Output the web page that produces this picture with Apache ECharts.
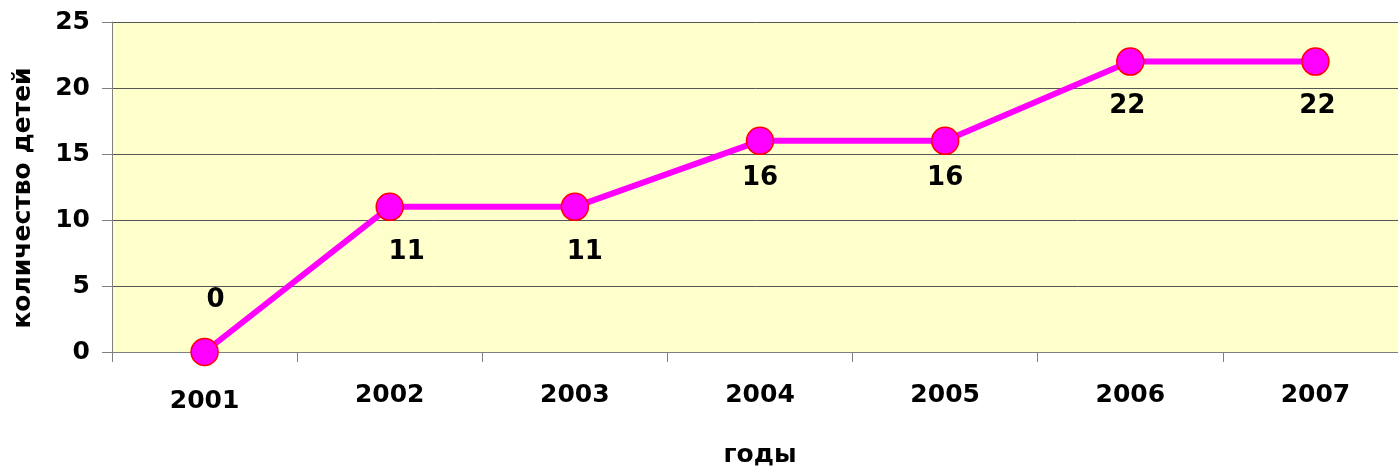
<!DOCTYPE html>
<html>
<head>
<meta charset="utf-8">
<script src="https://cdn.jsdelivr.net/npm/echarts@6/dist/echarts.min.js"></script>
<style>
html,body{margin:0;padding:0;background:#fff;}
#chart{width:1398px;height:466px;}
</style>
</head>
<body>
<div id="chart"></div>
<script>
var years = ['2001', '2002', '2003', '2004', '2005', '2006', '2007'];
var children = [0, 11, 11, 16, 16, 22, 22];
var yTicks = [0, 5, 10, 15, 20, 25];
var xTitle = 'годы';
var yTitle = 'количество детей';

// label placement (styling only)
var labelOffsets = [[11, -52], [17, 45], [10, 45], [0, 37], [0, 37], [-3, 45], [2, 45]];

var FONT = 'DejaVu Sans';
var chart = echarts.init(document.getElementById('chart'), null, {renderer: 'canvas'});

var dataItems = children.map(function (v, i) {
  return {
    value: v,
    label: {offset: labelOffsets[i]}
  };
});

chart.setOption({
  animation: false,
  backgroundColor: '#ffffff',
  grid: {
    left: 112, right: -10, top: 22, bottom: 114,
    show: true, backgroundColor: '#FFFFCC', borderWidth: 0,
    containLabel: false,
    outerBoundsMode: 'none'
  },
  xAxis: {
    type: 'category',
    data: years,
    boundaryGap: true,
    name: xTitle,
    nameLocation: 'middle',
    nameGap: 91,
    nameTextStyle: {fontFamily: FONT, fontWeight: 'bold', fontSize: 25, color: '#000'},
    axisLine: {show: true, lineStyle: {color: '#808080', width: 1}},
    axisTick: {show: true, alignWithLabel: false, length: 10, lineStyle: {color: '#808080'}},
    axisLabel: {
      fontFamily: FONT, fontWeight: 'bold', fontSize: 25, color: '#000', margin: 31,
      formatter: function (val, idx) { return idx === 0 ? '{a|' + val + '}' : val; },
      rich: {a: {fontFamily: FONT, fontWeight: 'bold', fontSize: 25, color: '#000', padding: [6, 0, 0, 0]}}
    },
    splitLine: {show: false}
  },
  yAxis: {
    type: 'value',
    min: yTicks[0], max: yTicks[yTicks.length - 1], interval: yTicks[1] - yTicks[0],
    name: yTitle,
    nameLocation: 'middle',
    nameGap: 76,
    nameTextStyle: {fontFamily: FONT, fontWeight: 'bold', fontSize: 25, color: '#000', padding: [0, 22, 0, 0]},
    axisLine: {show: true, lineStyle: {color: '#808080', width: 1}},
    axisTick: {show: true, length: 10, lineStyle: {color: '#808080'}},
    axisLabel: {fontFamily: FONT, fontWeight: 'bold', fontSize: 25, color: '#000', margin: 22},
    splitLine: {show: true, lineStyle: {color: '#555555', width: 1}}
  },
  series: [{
    type: 'line',
    data: dataItems,
    symbol: 'circle',
    symbolSize: 27,
    lineStyle: {color: '#FF00FF', width: 6},
    itemStyle: {color: '#FF00FF', borderColor: '#FF0000', borderWidth: 1.5},
    label: {
      show: true,
      position: 'inside',
      fontFamily: FONT, fontWeight: 'bold', fontSize: 26, color: '#000'
    },
    z: 3
  }]
});
</script>
</body>
</html>
